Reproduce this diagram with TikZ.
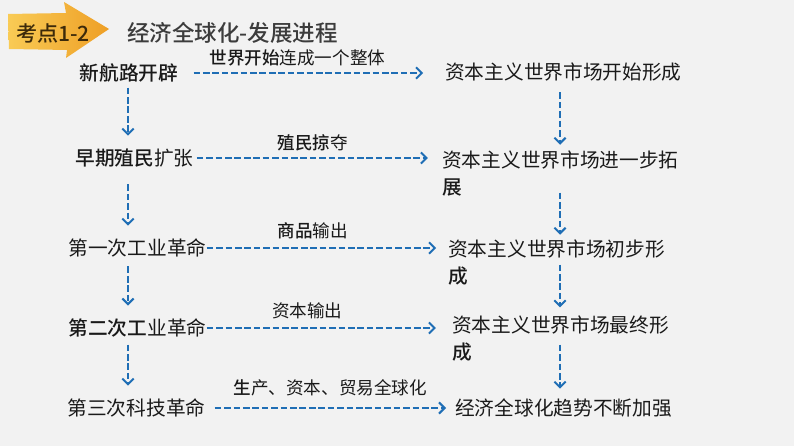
\documentclass[tikz,border=0pt]{standalone}
\usepackage{fontspec}
\setmainfont{Noto Sans CJK SC}[BoldFont={Noto Sans CJK SC Medium}]
\usepackage{xcolor}
\usepackage{tikz}
\usetikzlibrary{arrows.meta,positioning}

\definecolor{pagegray}{HTML}{F2F2F2}
\definecolor{flowblue}{HTML}{1F6EB5}
\definecolor{textdark}{HTML}{1A1A1A}
\definecolor{badgeyellow}{HTML}{F9CB55}
\definecolor{badgeorange}{HTML}{EE9F26}
\definecolor{badgetext}{HTML}{3D2A0A}

\begin{document}
\begin{tikzpicture}[x=0.025cm,y=-0.025cm,inner sep=0pt,
  stage/.style={font=\fontsize{14}{19}\selectfont,text=textdark,align=left},
  lbl/.style={font=\fontsize{12.5}{15}\selectfont,text=textdark,above=4.5pt},
  flow/.style={draw=flowblue,line width=1.4pt,dash pattern=on 4.7pt off 2pt,
    -{Straight Barb[length=4pt,width=8pt]}}]
\fill[pagegray] (0,0) rectangle (794,446);

% badge and title
\shade[left color=badgeyellow,right color=badgeorange]
  (8,14) -- (66,13) -- (64,2) -- (109,29) -- (66,58) -- (67,50) -- (9,49) -- cycle;
\node[font=\fontsize{15}{18}\selectfont\bfseries,text=badgetext] (badge) at (53,33) {考点1-2};
\node[font=\fontsize{16}{19}\selectfont\bfseries,text=textdark!85,anchor=west] (title) at (127,33) {经济全球化-发展进程};

\coordinate (lc) at (128,0);
\coordinate (rc) at (560,0);

\node[stage] (L1) at (129,73) {\bfseries 新航路开辟};
\node[stage] (L2) at (134.5,158) {{\bfseries 早期殖民}扩张};
\node[stage] (L3) at (137.5,248) {第一次工业革命};
\node[stage] (L4) at (137.5,328) {{\bfseries 第二次工}业革命};
\node[stage] (L5) at (136.5,408) {第三次科技革命};

\node[stage,anchor=west] (R1) at (445,72) {资本主义世界市场开始形成};
\node[stage,anchor=base west] (R2) at (442,194.5) {资本主义世界市场进一步拓\\{\bfseries 展}};
\node[stage,anchor=base west] (R3) at (448,283.5) {资本主义世界市场初步形\\{\bfseries 成}};
\node[stage,anchor=base west] (R4) at (452,359.5) {资本主义世界市场最终形\\{\bfseries 成}};
\node[stage,anchor=west] (R5) at (455,408) {经济全球化趋势不断加强};

\path (L1.east) edge[flow,shorten <=10.7pt,shorten >=15.6pt] node[lbl,pos=0.446] {{\bfseries 世界开始}连成一个整体} (L1.east -| R1.west);
\path (L2.east) edge[flow,shorten <=2.1pt,shorten >=10pt] node[lbl,pos=0.48] {{\bfseries 殖民掠}夺} (L2.east -| R2.west);
\path (L3.east) edge[flow,shorten >=8.5pt] node[lbl,pos=0.44,above=6pt] {{\bfseries 商品}输出} (L3.east -| R3.west);
\path (L4.east) edge[flow,shorten >=11.4pt] node[lbl,pos=0.41,above=6pt] {资本输出} (L4.east -| R4.west);
\path (L5.east) edge[flow,shorten <=6.4pt,shorten >=6.4pt] node[lbl,pos=0.5,above=8pt] {{\bfseries 生}产、资本、贸易全球化} (L5.east -| R5.west);

\path (L1.south -| lc) edge[flow,shorten <=3.6pt,shorten >=9.2pt] (L2.north -| lc);
\path (L2.south -| lc) edge[flow,shorten <=12pt,shorten >=9.2pt] (L3.north -| lc);
\path (L3.south -| lc) edge[flow,shorten <=6.4pt,shorten >=9.2pt] (L4.north -| lc);
\path (L4.south -| lc) edge[flow,shorten <=5pt,shorten >=9.2pt] (L5.north -| lc);

\path (R1.south -| rc) edge[flow,shorten <=7.8pt,shorten >=4.3pt] (R2.north -| rc);
\path (R2.south -| rc) edge[flow,shorten <=-2.8pt,shorten >=3.6pt] (R3.north -| rc);
\path (R3.south -| rc) edge[flow,shorten <=-15pt,shorten >=6pt] (R4.north -| rc);
\path (R4.south -| rc) edge[flow,shorten <=-12pt,shorten >=7pt] (R5.north -| rc);
\end{tikzpicture}
\end{document}
